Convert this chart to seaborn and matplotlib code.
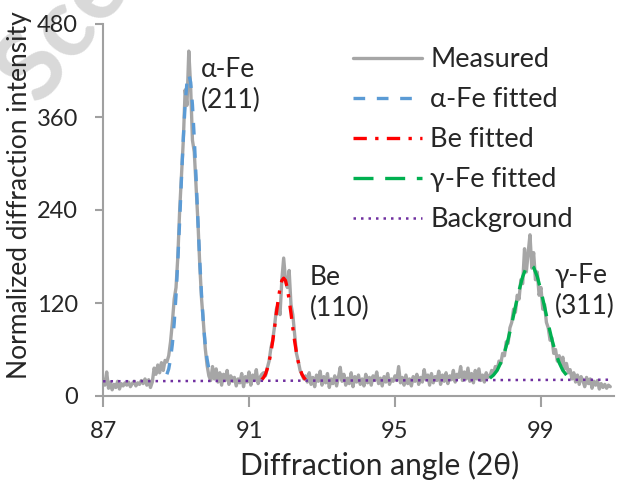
import numpy as np
import pandas as pd
import matplotlib
matplotlib.use("Agg")
import matplotlib.pyplot as plt
import seaborn as sns

# ---------------- data ----------------
angle_start = 87.0
angle_step = 0.05
measured = [
    # 87.00 - 88.35
    22, 14, 31, 10, 18, 8, 15, 11, 19, 9, 16, 13, 17, 14, 18, 12, 16, 19, 13, 17, 15, 20, 16, 22, 14, 21, 11, 18,
    # 88.40 - 88.75
    36, 28, 40, 30, 43, 33, 46, 44,
    # 88.80 - 89.95 (alpha-Fe 211)
    52, 70, 95, 125, 140, 180, 240, 285, 330, 395, 375, 445, 400, 330, 315, 270, 225, 170, 125, 95, 62, 40, 26, 20,
    # 90.00 - 91.35
    38, 22, 35, 18, 30, 14, 28, 20, 33, 15, 26, 19, 24, 13, 22, 17, 29, 12, 25, 18, 31, 14, 27, 20, 34, 16, 24, 28,
    # 91.40 - 92.55 (Be 110)
    30, 26, 36, 45, 62, 72, 90, 112, 118, 105, 150, 178, 150, 140, 162, 118, 105, 80, 55, 45, 33, 28, 22, 26,
    # 92.60 - 97.55
    18, 30, 15, 24, 12, 27, 19, 32, 14, 25,
    17, 29, 11, 22, 16, 26, 13, 24, 37, 19,
    28, 14, 23, 16, 30, 12, 25, 18, 27, 15,
    22, 13, 28, 17, 24, 14, 26, 20, 31, 16,
    23, 13, 25, 18, 29, 15, 22, 19, 26, 20,
    38, 17, 24, 14, 27, 16, 22, 13, 25, 19,
    28, 15, 24, 18, 34, 21, 27, 14, 29, 17,
    25, 20, 32, 15, 27, 19, 30, 16, 26, 21,
    33, 18, 28, 24, 38, 20, 31, 22, 36, 19,
    29, 17, 33, 22, 35, 20, 27, 18, 30, 24,
    # 97.60 - 99.75 (gamma-Fe 311)
    25, 33, 28, 38, 34, 45, 42, 55, 52, 70, 68, 88, 95, 112, 108, 130, 125, 150, 145, 190, 160, 185,
    208, 165, 185, 150, 160, 130, 140, 112, 118, 95, 88, 72, 75, 55, 60, 45, 52, 40, 50, 35, 42, 30,
    # 99.80 - 100.90
    34, 22, 30, 18, 27, 15, 25, 20, 12, 24, 16, 22, 10, 19, 14, 20, 9, 16, 11, 15, 10, 14, 12,
]

alpha_x = [88.75, 88.80, 88.85, 88.90, 88.95, 89.00, 89.05, 89.10, 89.15, 89.20, 89.25, 89.30, 89.35,
           89.40, 89.45, 89.50, 89.55, 89.60, 89.65, 89.70, 89.75, 89.80, 89.85, 89.90, 89.95]
alpha_y = [28, 35, 48, 67, 94, 130, 175, 226, 281, 333, 376, 405, 415,
           405, 376, 333, 281, 226, 175, 130, 94, 67, 48, 35, 28]

be_x = [91.35, 91.40, 91.45, 91.50, 91.55, 91.60, 91.65, 91.70, 91.75, 91.80, 91.85, 91.90, 91.95,
        92.00, 92.05, 92.10, 92.15, 92.20, 92.25, 92.30, 92.35, 92.40, 92.45, 92.50, 92.55]
be_y = [21, 24, 28, 35, 44, 56, 71, 88, 107, 124, 139, 149, 152,
        149, 139, 124, 107, 88, 71, 56, 44, 35, 28, 24, 21]

gamma_x = [97.6, 97.7, 97.8, 97.9, 98.0, 98.1, 98.2, 98.3, 98.4, 98.5, 98.6, 98.7,
           98.8, 98.9, 99.0, 99.1, 99.2, 99.3, 99.4, 99.5, 99.6, 99.7]
gamma_y = [23, 27, 33, 43, 56, 73, 93, 115, 136, 154, 166, 170,
           166, 154, 136, 115, 93, 73, 56, 43, 33, 27]

bg_x = [87.0, 100.9]
bg_y = [19, 21]

x_ticks = [87, 91, 95, 99]
y_ticks = [0, 120, 240, 360, 480]
peak_labels = ["α-Fe\n(211)", "Be\n(110)", "γ-Fe\n(311)"]
peak_label_pos = [(89.68, 401), (92.67, 133), (99.38, 136)]

# ---------------- plotting ----------------
sns.set_style("white")
plt.rcParams["font.family"] = ["Lato", "DejaVu Sans"]

meas_x = np.round(angle_start + angle_step * np.arange(len(measured)), 2)
df_meas = pd.DataFrame({"angle": meas_x, "intensity": measured})

fig = plt.figure(figsize=(6.17, 4.80), dpi=100)
ax = fig.add_axes([0.167, 0.175, 0.828, 0.775])
ax.patch.set_alpha(0)

# faint watermark
fig.text(-0.03, 0.76, "Sce", fontsize=70, rotation=52, color="#d9d9d9",
         fontweight="bold", ha="left", va="bottom", zorder=-5)

FS_TICK = 17
FS_YLAB = 19
FS_XLAB = 21.5
FS_LEG = 19.5
FS_ANN = 19

sns.lineplot(data=df_meas, x="angle", y="intensity", ax=ax, color="#a6a6a6",
             linewidth=2.4, label="Measured", zorder=2)
sns.lineplot(x=alpha_x, y=alpha_y, ax=ax, color="#5b9bd5", linewidth=2.4,
             linestyle=(0, (3.5, 3.5)), label="α-Fe fitted", zorder=3)
sns.lineplot(x=be_x, y=be_y, ax=ax, color="#ff0000", linewidth=2.4,
             linestyle=(0, (4, 2.5, 1, 2.5)), label="Be fitted", zorder=3)
sns.lineplot(x=gamma_x, y=gamma_y, ax=ax, color="#00b050", linewidth=2.4,
             linestyle=(0, (6, 3.5)), label="γ-Fe fitted", zorder=3)
sns.lineplot(x=bg_x, y=bg_y, ax=ax, color="#7030a0", linewidth=1.8,
             linestyle=(0, (1, 2)), label="Background", zorder=3)

ax.set_xlim(87, 101)
ax.set_ylim(0, 480)
ax.set_xticks(x_ticks)
ax.set_yticks(y_ticks)

for s in ["top", "right"]:
    ax.spines[s].set_visible(False)
for s in ["left", "bottom"]:
    ax.spines[s].set_color("#a0a0a0")
    ax.spines[s].set_linewidth(1.5)

ax.tick_params(axis="x", direction="out", length=8, width=1.5, color="#a0a0a0",
               labelsize=FS_TICK, pad=10, bottom=True)
ax.tick_params(axis="y", direction="out", length=6, width=1.5, color="#a0a0a0",
               labelsize=FS_TICK, pad=12, left=True)

ax.set_xlabel("Diffraction angle (2θ)", fontsize=FS_XLAB)
ax.set_ylabel("Normalized diffraction intensity", fontsize=FS_YLAB)
ax.xaxis.set_label_coords(0.542, -0.148)
ax.yaxis.set_label_coords(-0.139, 0.54)

for txt, (px, py) in zip(peak_labels, peak_label_pos):
    ax.text(px, py, txt, fontsize=FS_ANN, ha="left", va="center", linespacing=1.3)

leg = ax.legend(loc="upper left", bbox_to_anchor=(0.489, 0.937), frameon=False,
                fontsize=FS_LEG, handlelength=2.55, handletextpad=0.3,
                labelspacing=0.55, borderaxespad=0.0, borderpad=0.0)

fig.savefig("out.png", dpi=100)
